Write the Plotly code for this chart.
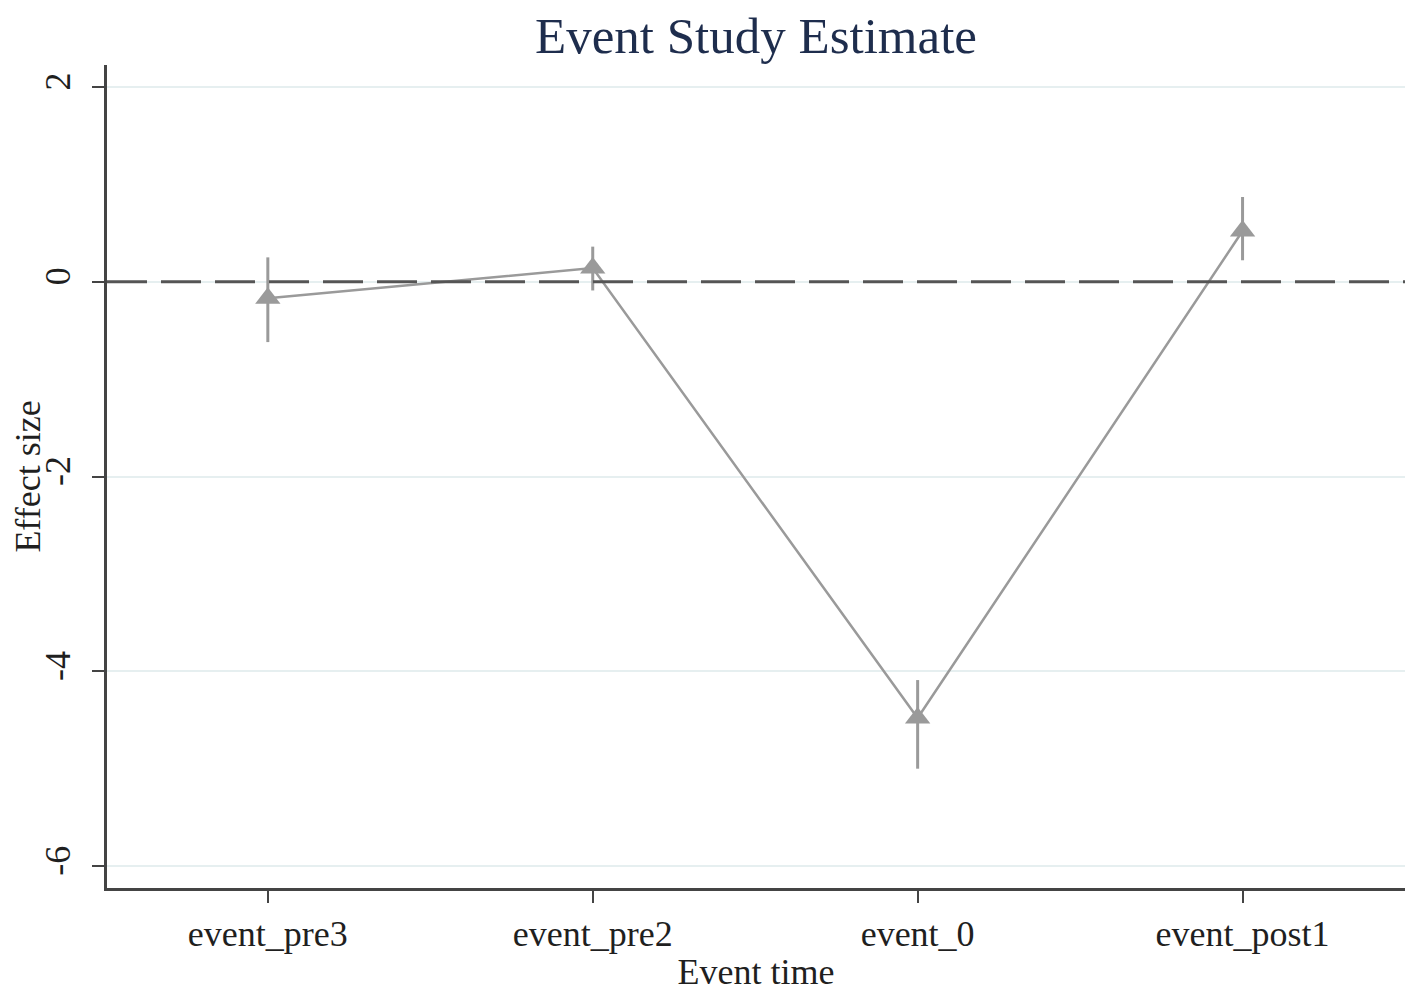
import plotly.graph_objects as go

# event study estimates
event_labels = ["event_pre3", "event_pre2", "event_0", "event_post1"]
estimates = [-0.17, 0.14, -4.48, 0.52]
ci_upper = [0.25, 0.36, -4.09, 0.87]
ci_lower = [-0.62, -0.09, -5.0, 0.22]
y_ticks = [-6, -4, -2, 0, 2]
y_tick_text = ["-6", "-4", "-2", "0", "2"]

err_plus = [u - e for u, e in zip(ci_upper, estimates)]
err_minus = [e - l for e, l in zip(estimates, ci_lower)]
x_pos = list(range(len(event_labels)))

serif = "Liberation Serif, Times New Roman, serif"
grey = "#9a9a9a"
ink = "#1f1f1f"

fig = go.Figure()

fig.add_trace(go.Scatter(
    x=x_pos,
    y=estimates,
    mode="lines+markers",
    line=dict(color=grey, width=2.5),
    marker=dict(symbol="triangle-up", size=22, color=grey),
    error_y=dict(type="data", symmetric=False, array=err_plus,
                 arrayminus=err_minus, color=grey, thickness=3, width=0),
    showlegend=False,
))

# zero reference line
fig.add_shape(type="line", xref="paper", x0=0, x1=1, yref="y", y0=0, y1=0,
              line=dict(color="#555555", width=3, dash="40px,14px"),
              layer="above")

# page has an 8px body margin, so margins are shifted to compensate
fig.update_layout(
    width=1418,
    height=997,
    paper_bgcolor="white",
    plot_bgcolor="white",
    margin=dict(l=99, r=21, t=57, b=117),
    title=dict(text="Event Study Estimate", x=0.5275, xanchor="center",
               y=0.973, yanchor="middle",
               font=dict(family=serif, size=51, color="#1e2d4d")),
    font=dict(family=serif, size=36, color=ink),
)

fig.update_xaxes(
    range=[-0.495, 3.5],
    tickmode="array",
    tickvals=x_pos,
    ticktext=event_labels,
    automargin=False,
    showgrid=False,
    zeroline=False,
    showline=True,
    linecolor="#444444",
    linewidth=3,
    ticks="outside",
    ticklen=12,
    tickwidth=2,
    tickcolor="#444444",
    tickfont=dict(family=serif, size=36, color=ink),
    title=dict(text="Event time", standoff=6,
               font=dict(family=serif, size=36, color=ink)),
)

fig.update_yaxes(
    range=[-6.225, 2.225],
    tickmode="array",
    tickvals=y_ticks,
    ticktext=y_tick_text,
    tickangle=-90,
    ticklabelstandoff=8,
    automargin=False,
    showgrid=True,
    gridcolor="#e6eff0",
    gridwidth=2,
    zeroline=False,
    showline=True,
    linecolor="#444444",
    linewidth=3,
    ticks="outside",
    ticklen=12,
    tickwidth=2,
    tickcolor="#444444",
    tickfont=dict(family=serif, size=36, color=ink),
    title=dict(text="Effect size", standoff=8,
               font=dict(family=serif, size=36, color=ink)),
)

fig.write_html("out.html")
